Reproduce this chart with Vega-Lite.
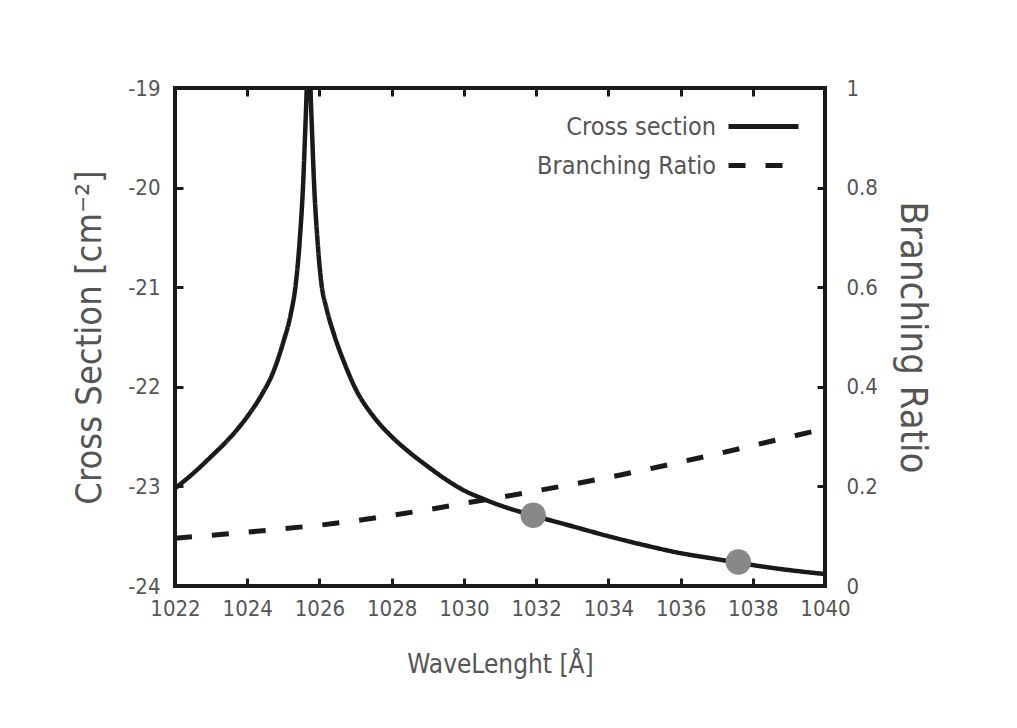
{
  "$schema": "https://vega.github.io/schema/vega-lite/v6.json",
  "width": 650,
  "height": 498,
  "autosize": {"type": "none"},
  "padding": {"left": 175, "top": 88, "right": 192, "bottom": 142},
  "background": "white",
  "config": {
    "view": {"stroke": "#1a1a1a", "strokeWidth": 4},
    "font": "DejaVu Sans Condensed, Liberation Sans",
    "axis": {
      "domain": false,
      "grid": false,
      "tickColor": "#1a1a1a",
      "tickWidth": 3,
      "tickSize": -8,
      "labelFont": "DejaVu Sans Condensed, Liberation Sans",
      "labelFontSize": 22,
      "labelColor": "#555555",
      "titleFont": "DejaVu Sans Condensed, Liberation Sans",
      "titleFontSize": 26,
      "titleFontWeight": "normal",
      "titleColor": "#555555",
      "labelFlush": false,
      "labelOverlap": false
    },
    "legend": {
      "labelFont": "DejaVu Sans Condensed, Liberation Sans",
      "labelFontSize": 25,
      "labelColor": "#555555",
      "labelLimit": 400
    }
  },
  "datasets": {
    "cross": [
      {"wl": 1022.0, "cs": -23.02},
      {"wl": 1022.5, "cs": -22.87},
      {"wl": 1023.0, "cs": -22.70},
      {"wl": 1023.5, "cs": -22.52},
      {"wl": 1024.0, "cs": -22.30},
      {"wl": 1024.4, "cs": -22.08},
      {"wl": 1024.7, "cs": -21.87},
      {"wl": 1025.0, "cs": -21.55},
      {"wl": 1025.2, "cs": -21.28},
      {"wl": 1025.35, "cs": -20.95},
      {"wl": 1025.45, "cs": -20.55},
      {"wl": 1025.55, "cs": -19.95},
      {"wl": 1025.62, "cs": -19.3},
      {"wl": 1025.7, "cs": -18.6},
      {"wl": 1025.78, "cs": -19.3},
      {"wl": 1025.85, "cs": -19.95},
      {"wl": 1025.95, "cs": -20.55},
      {"wl": 1026.05, "cs": -20.95},
      {"wl": 1026.2, "cs": -21.22},
      {"wl": 1026.4, "cs": -21.47},
      {"wl": 1026.7, "cs": -21.77},
      {"wl": 1027.0, "cs": -22.02},
      {"wl": 1027.5, "cs": -22.30},
      {"wl": 1028.0, "cs": -22.50},
      {"wl": 1028.5, "cs": -22.66},
      {"wl": 1029.0, "cs": -22.80},
      {"wl": 1029.5, "cs": -22.93},
      {"wl": 1030.0, "cs": -23.04},
      {"wl": 1030.5, "cs": -23.12},
      {"wl": 1031.0, "cs": -23.19},
      {"wl": 1031.9, "cs": -23.29},
      {"wl": 1033.0, "cs": -23.40},
      {"wl": 1034.0, "cs": -23.50},
      {"wl": 1035.0, "cs": -23.59},
      {"wl": 1036.0, "cs": -23.67},
      {"wl": 1037.0, "cs": -23.73},
      {"wl": 1038.0, "cs": -23.79},
      {"wl": 1039.0, "cs": -23.84},
      {"wl": 1040.0, "cs": -23.88}
    ],
    "points": [
      {"wl": 1031.92, "cs": -23.29},
      {"wl": 1037.6, "cs": -23.76}
    ],
    "branch": [
      {"wl": 1022, "br": 0.096},
      {"wl": 1023, "br": 0.102},
      {"wl": 1024, "br": 0.108},
      {"wl": 1025, "br": 0.115},
      {"wl": 1026, "br": 0.122},
      {"wl": 1027, "br": 0.131},
      {"wl": 1028, "br": 0.142},
      {"wl": 1029, "br": 0.153},
      {"wl": 1030, "br": 0.166},
      {"wl": 1031, "br": 0.178},
      {"wl": 1032, "br": 0.191},
      {"wl": 1033, "br": 0.204},
      {"wl": 1034, "br": 0.218},
      {"wl": 1035, "br": 0.233},
      {"wl": 1036, "br": 0.249},
      {"wl": 1037, "br": 0.265},
      {"wl": 1038, "br": 0.282},
      {"wl": 1039, "br": 0.299},
      {"wl": 1040, "br": 0.316}
    ]
  },
  "layer": [
    {
      "layer": [
        {
          "data": {"name": "cross"},
          "mark": {"type": "line", "clip": true, "strokeWidth": 4.5, "color": "#1a1a1a", "strokeCap": "butt", "interpolate": "monotone"},
          "encoding": {
            "x": {"field": "wl", "type": "quantitative",
              "scale": {"domain": [1022, 1040], "nice": false, "zero": false},
              "axis": {"orient": "bottom", "values": [1022,1024,1026,1028,1030,1032,1034,1036,1038,1040], "format": "d", "labelPadding": 20, "title": "WaveLenght [Å]", "titlePadding": 32, "titleFontSize": 26}},
            "y": {"field": "cs", "type": "quantitative",
              "scale": {"domain": [-24, -19], "nice": false, "zero": false},
              "axis": {"orient": "left", "values": [-24,-23,-22,-21,-20,-19], "labelExpr": "datum.value + ''", "labelPadding": 23, "title": "Cross Section [cm⁻²]", "titlePadding": 19, "titleFontSize": 36}},
            "strokeDash": {"datum": "Cross section", "type": "nominal",
              "scale": {"domain": ["Cross section", "Branching Ratio"], "range": [[1, 0], [17, 20]]},
              "legend": {"title": null, "orient": "none", "legendX": 574, "legendY": 24, "symbolType": "M-3,0H3", "symbolSize": 544, "symbolStrokeWidth": 5, "symbolStrokeColor": "#1a1a1a", "symbolFillColor": "transparent", "labelAlign": "right", "labelOffset": -62, "rowPadding": 11, "padding": 0}}
          }
        },
        {
          "data": {"name": "points"},
          "mark": {"type": "point", "filled": true, "shape": "circle", "size": 650, "color": "#888888", "opacity": 1},
          "encoding": {
            "x": {"field": "wl", "type": "quantitative"},
            "y": {"field": "cs", "type": "quantitative"}
          }
        }
      ]
    },
    {
      "data": {"name": "branch"},
      "mark": {"type": "line", "clip": true, "strokeWidth": 5, "color": "#1a1a1a", "strokeCap": "butt"},
      "encoding": {
        "x": {"field": "wl", "type": "quantitative",
          "axis": {"orient": "top", "values": [1022,1024,1026,1028,1030,1032,1034,1036,1038,1040], "labels": false, "title": null}},
        "y": {"field": "br", "type": "quantitative",
          "scale": {"domain": [0, 1], "nice": false, "zero": false},
          "axis": {"orient": "right", "values": [0,0.2,0.4,0.6,0.8,1], "format": "~g", "labelPadding": 29, "title": "Branching Ratio", "titlePadding": 15, "titleFontSize": 38}},
        "strokeDash": {"datum": "Branching Ratio", "type": "nominal"}
      }
    }
  ],
  "resolve": {"scale": {"y": "independent"}, "axis": {"y": "independent", "x": "independent"}}
}
